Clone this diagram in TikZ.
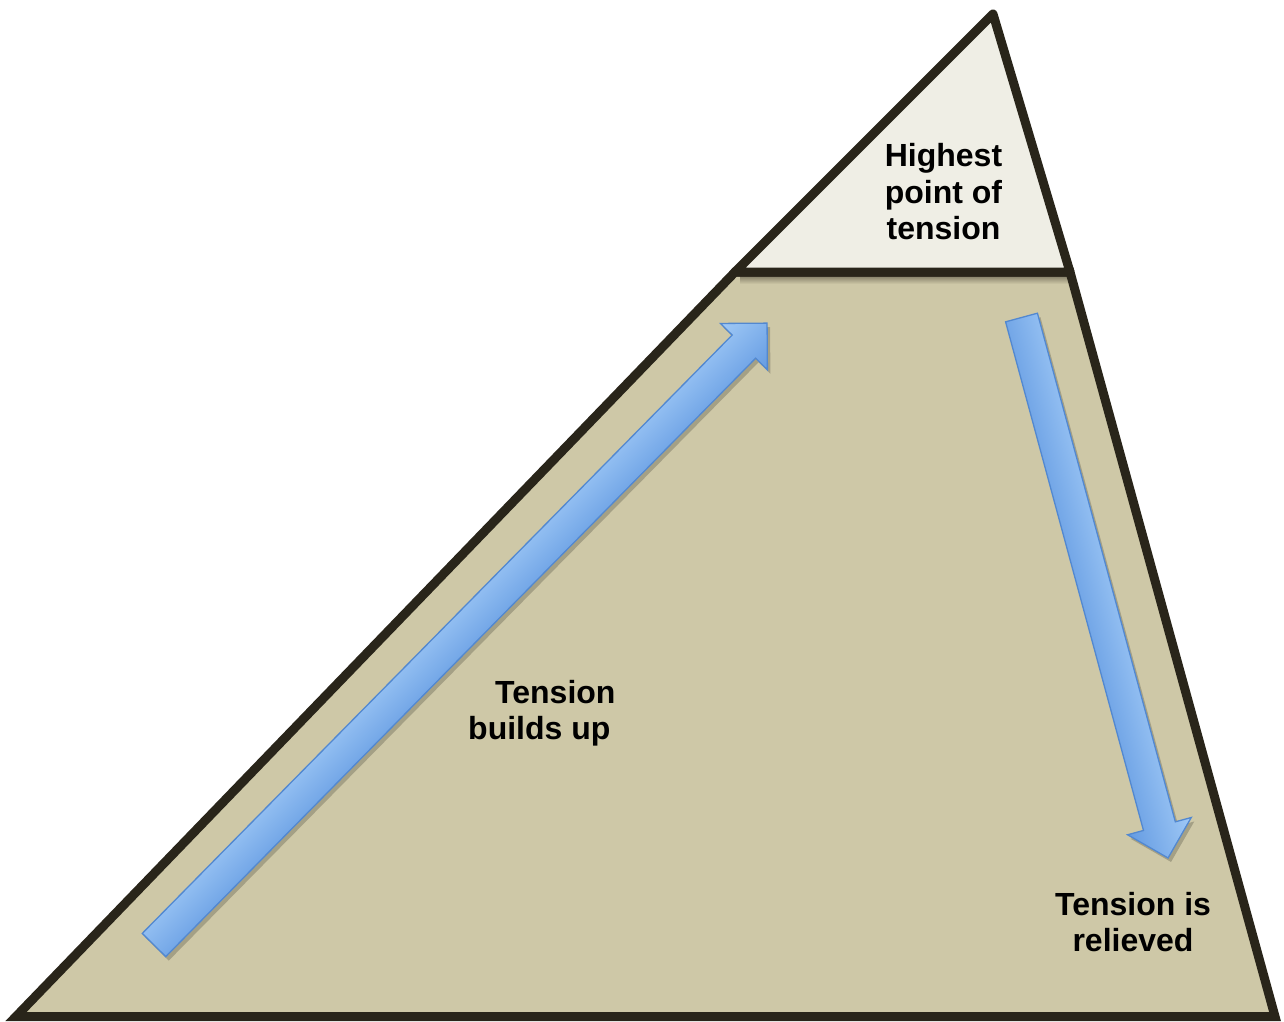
\documentclass[tikz,border=0pt]{standalone}
\usepackage{fontspec}
\setmainfont{Liberation Sans}
\definecolor{trapfill}{RGB}{206,200,167}
\definecolor{trifill}{RGB}{239,238,229}
\definecolor{outline}{RGB}{41,37,26}
\definecolor{arrlight}{RGB}{160,201,246}
\definecolor{arrdark}{RGB}{100,155,226}
\definecolor{arrline}{RGB}{82,136,208}
\begin{document}
\begin{tikzpicture}[x=1pt,y=-1pt,
  lbl/.style={font=\bfseries\fontsize{32}{36.5}\selectfont, text=black, inner sep=0pt, align=center},
  outl/.style={draw=outline, line width=9pt},
  arr/.style={top color=arrlight, bottom color=arrdark, draw=arrline, line width=1.3pt, line join=miter},
  arrshadow/.style={fill=black, opacity=0.2}]
\useasboundingbox[fill=white] (0,0) rectangle (1284,1021);
% corners
\coordinate (BL) at (16,1016.5);
\coordinate (BR) at (1275,1016.5);
\coordinate (TR) at (1070,272);
\coordinate (TL) at (735,272);
\coordinate (AP) at (993,14);
% lower body
\fill[trapfill] (BL) -- (BR) -- (TR) -- (TL) -- cycle;
\shade[top color=outline!55!trapfill, bottom color=trapfill] (740,274) rectangle (1068,284);
% arrow shadows
\begin{scope}[transform canvas={shift={(157,949)},rotate=45.41}]
  \fill[arrshadow] (0,-16.5) -- (840.3,-16.5) -- (840.3,-33) -- (873.3,0) -- (840.3,33) -- (840.3,16.5) -- (0,16.5) -- cycle;
\end{scope}
\begin{scope}[transform canvas={shift={(1024.5,321.5)},rotate=-74.83}]
  \fill[arrshadow] (0,-16.5) -- (527,-16.5) -- (527,-33) -- (560,0) -- (527,33) -- (527,16.5) -- (0,16.5) -- cycle;
\end{scope}
% arrows
\begin{scope}[transform canvas={shift={(154,945)},rotate=45.41}]
  \shade[arr] (0,-16.5) -- (840.3,-16.5) -- (840.3,-33) -- (873.3,0) -- (840.3,33) -- (840.3,16.5) -- (0,16.5) -- cycle;
\end{scope}
\begin{scope}[transform canvas={shift={(1021.5,317.5)},rotate=-74.83}]
  \shade[arr] (0,-16.5) -- (527,-16.5) -- (527,-33) -- (560,0) -- (527,33) -- (527,16.5) -- (0,16.5) -- cycle;
\end{scope}
% outlines
\draw[outl, line join=miter] (BL) -- (BR) -- (TR) -- (TL) -- cycle;
\filldraw[outl, fill=trifill, line join=round] (TL) -- (AP) -- (TR) -- cycle;
% labels
\node[lbl] (peak) at (943.5,192) {Highest\\point of\\tension};
\node[lbl, align=left, anchor=west] (build) at (468,713) {\hspace*{27pt}Tension\\builds up};
\node[lbl] (relief) at (1133,922) {Tension is\\relieved};
\end{tikzpicture}
\end{document}
